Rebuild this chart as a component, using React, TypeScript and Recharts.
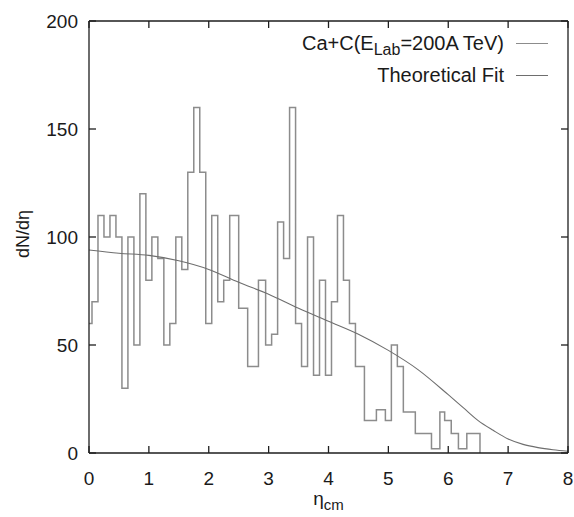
import { LineChart, Line, XAxis, YAxis, Legend } from "recharts";

// histogram: left bin edge -> dN/deta from that edge to the next
const histEdges = [
  0, 0.05, 0.15, 0.25, 0.35, 0.45, 0.55, 0.65, 0.75, 0.85, 0.95, 1.05, 1.15,
  1.25, 1.35, 1.45, 1.55, 1.65, 1.75, 1.85, 1.95, 2.05, 2.15, 2.25, 2.35, 2.5,
  2.65, 2.83, 2.95, 3.05, 3.15, 3.25, 3.35, 3.45, 3.55, 3.65, 3.75, 3.85, 3.95,
  4.05, 4.15, 4.25, 4.35, 4.45, 4.6, 4.8, 4.95, 5.05, 5.15, 5.25, 5.45, 5.72,
  5.86, 5.94, 6.05, 6.17, 6.31, 6.53,
];
const histCounts = [
  60, 70, 110, 100, 110, 100, 30, 100, 50, 120, 80, 100, 90, 50, 60, 100, 85,
  130, 160, 130, 60, 110, 70, 80, 110, 67, 40, 80, 50, 55, 107, 90, 160, 60, 40,
  100, 36, 80, 36, 70, 110, 80, 60, 40, 15, 20, 15, 50, 40, 19, 9, 2, 19, 15, 9,
  2, 9, 0,
];

// theoretical fit
const fitEta = [0, 0.5, 1, 1.5, 2, 2.5, 3, 3.5, 4, 4.5, 5, 5.5, 6, 6.25, 6.5, 6.75, 7, 7.25, 7.5, 7.75, 8];
const fitDn = [94, 92.5, 91.5, 89, 85, 79, 73.5, 67, 61, 55, 47.5, 38.5, 27, 21, 15, 10.5, 6.5, 4, 2.5, 1.5, 0.8];

const xTicks = [0, 1, 2, 3, 4, 5, 6, 7, 8];
const yTicks = [0, 50, 100, 150, 200];

const HIST_COLOR = "#8c8c8c";
const FIT_COLOR = "#6e6e6e";
const AXIS_COLOR = "#1e1e1e";
const TEXT_COLOR = "#1a1a1a";
const FONT = "'Liberation Sans', Arial, Helvetica, sans-serif";
const TICK_LEN = 7;
const TICK_W = 1.3;

const histData = histEdges.map((x, i) => ({ x, y: histCounts[i] }));
const fitData = fitEta.map((x, i) => ({ x, y: fitDn[i] }));

// gnuplot style ticks: drawn inward from the border, labels outside
function BottomTick(props: any) {
  const x = Number(props.x);
  const y = Number(props.y);
  return (
    <g>
      <line x1={x} y1={y} x2={x} y2={y - TICK_LEN} stroke={AXIS_COLOR} strokeWidth={TICK_W} />
      <text x={x} y={y + 32} textAnchor="middle" fontSize={19} fill={TEXT_COLOR} fontFamily={FONT}>
        {props.payload.value}
      </text>
    </g>
  );
}

function LeftTick(props: any) {
  const x = Number(props.x);
  const y = Number(props.y);
  return (
    <g>
      <line x1={x} y1={y} x2={x + TICK_LEN} y2={y} stroke={AXIS_COLOR} strokeWidth={TICK_W} />
      <text x={x - 11} y={y} dy="0.36em" textAnchor="end" fontSize={19} fill={TEXT_COLOR} fontFamily={FONT}>
        {props.payload.value}
      </text>
    </g>
  );
}

function TopTick(props: any) {
  const x = Number(props.x);
  const y = Number(props.y);
  return <line x1={x} y1={y} x2={x} y2={y + TICK_LEN} stroke={AXIS_COLOR} strokeWidth={TICK_W} />;
}

function RightTick(props: any) {
  const x = Number(props.x);
  const y = Number(props.y);
  return <line x1={x} y1={y} x2={x - TICK_LEN} y2={y} stroke={AXIS_COLOR} strokeWidth={TICK_W} />;
}

function LegendBox() {
  const row = {
    display: "flex",
    justifyContent: "flex-end",
    alignItems: "center",
    height: 32,
    fontSize: 20,
    color: TEXT_COLOR,
    fontFamily: FONT,
    whiteSpace: "nowrap" as const,
  };
  const sample = (c: string) => (
    <span style={{ display: "inline-block", width: 32, marginLeft: 12, borderTop: `1px solid ${c}` }} />
  );
  return (
    <div>
      <div style={row}>
        <span>
          Ca+C(E<span style={{ fontSize: "0.8em", position: "relative", top: "0.35em" }}>Lab</span>=200A TeV)
        </span>
        {sample(HIST_COLOR)}
      </div>
      <div style={row}>
        <span>Theoretical Fit</span>
        {sample(FIT_COLOR)}
      </div>
    </div>
  );
}

export default function App() {
  return (
    <div style={{ position: "absolute", left: 0, top: 0, background: "#fff" }}>
      <LineChart
        width={574}
        height={517}
        margin={{ top: 20, right: 5, bottom: 0, left: 0 }}
        style={{ fontFamily: FONT }}
      >
        <XAxis
          dataKey="x"
          type="number"
          domain={[0, 8]}
          ticks={xTicks}
          interval={0}
          allowDataOverflow
          height={64}
          tickSize={0}
          tickMargin={0}
          tickLine={false}
          tick={BottomTick}
          stroke={AXIS_COLOR}
          strokeWidth={1.3}
          label={(p: any) => {
            const vb = p.viewBox;
            return (
              <text
                x={vb.x + vb.width / 2}
                y={505}
                textAnchor="middle"
                fontSize={19}
                fill={TEXT_COLOR}
                fontFamily={FONT}
              >
                η<tspan fontSize={15} dy={5}>cm</tspan>
              </text>
            );
          }}
        />
        {/* mirror axes on top/right carry the fit curve so their ticks get drawn */}
        <XAxis
          xAxisId="top"
          orientation="top"
          dataKey="x"
          type="number"
          domain={[0, 8]}
          ticks={xTicks}
          interval={0}
          allowDataOverflow
          height={1}
          tickSize={0}
          tickMargin={0}
          tickLine={false}
          tick={TopTick}
          stroke={AXIS_COLOR}
          strokeWidth={1.3}
        />
        <YAxis
          type="number"
          domain={[0, 200]}
          ticks={yTicks}
          interval={0}
          width={89}
          tickSize={0}
          tickMargin={0}
          tickLine={false}
          tick={LeftTick}
          stroke={AXIS_COLOR}
          strokeWidth={1.3}
          label={(p: any) => {
            const vb = p.viewBox;
            const cx = 23;
            const cy = vb.y + vb.height / 2 - 3;
            return (
              <text
                x={cx}
                y={cy}
                transform={`rotate(-90 ${cx} ${cy})`}
                textAnchor="middle"
                dominantBaseline="central"
                fontSize={18}
                fill={TEXT_COLOR}
                fontFamily={FONT}
              >
                dN/dη
              </text>
            );
          }}
        />
        <YAxis
          yAxisId="right"
          orientation="right"
          type="number"
          domain={[0, 200]}
          ticks={yTicks}
          interval={0}
          allowDataOverflow
          width={1}
          tickSize={0}
          tickMargin={0}
          tickLine={false}
          tick={RightTick}
          stroke={AXIS_COLOR}
          strokeWidth={1.3}
        />
        <Legend
          layout="vertical"
          align="center"
          verticalAlign="middle"
          wrapperStyle={{ left: 250, top: 27, width: 298 }}
          content={() => <LegendBox />}
        />
        <Line
          data={histData}
          dataKey="y"
          type="stepAfter"
          stroke={HIST_COLOR}
          strokeWidth={1.5}
          dot={false}
          activeDot={false}
          isAnimationActive={false}
        />
        <Line
          xAxisId="top"
          yAxisId="right"
          data={fitData}
          dataKey="y"
          type="monotone"
          stroke={FIT_COLOR}
          strokeWidth={1.1}
          dot={false}
          activeDot={false}
          isAnimationActive={false}
        />
      </LineChart>
    </div>
  );
}
